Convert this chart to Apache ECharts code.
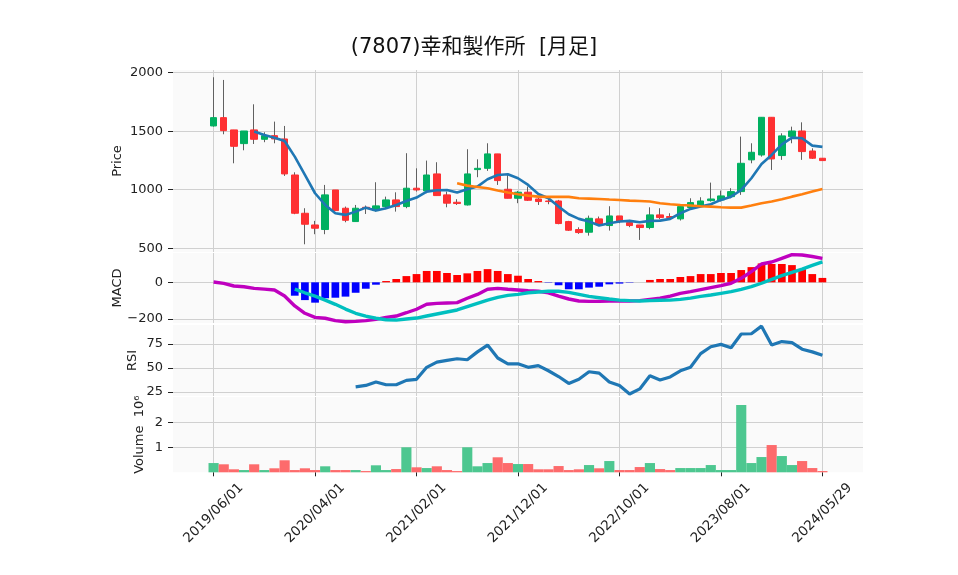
<!DOCTYPE html>
<html>
<head>
<meta charset="utf-8">
<title>(7807)幸和製作所 [月足]</title>
<script src="https://cdn.jsdelivr.net/npm/echarts@6/dist/echarts.min.js"></script>
<style>
html, body { margin: 0; padding: 0; background: #fff; }
#chart { width: 958px; height: 575px; }
</style>
</head>
<body>
<div id="chart"></div>
<script>
// 月足データ (チャートから読み取り)
var dates = [
    '2019/06/01', '2019/07/01', '2019/08/01', '2019/09/01', '2019/10/01', '2019/11/01', '2019/12/01',
    '2020/01/01', '2020/02/01', '2020/03/01', '2020/04/01', '2020/05/01', '2020/06/01',
    '2020/07/01', '2020/08/01', '2020/09/01', '2020/10/01', '2020/11/01', '2020/12/01',
    '2021/01/01', '2021/02/01', '2021/03/01', '2021/04/01', '2021/05/01', '2021/06/01',
    '2021/07/01', '2021/08/01', '2021/09/01', '2021/10/01', '2021/11/01', '2021/12/01',
    '2022/01/01', '2022/02/01', '2022/03/01', '2022/04/01', '2022/05/01', '2022/06/01',
    '2022/07/01', '2022/08/01', '2022/09/01', '2022/10/01', '2022/11/01', '2022/12/01',
    '2023/01/01', '2023/02/01', '2023/03/01', '2023/04/01', '2023/05/01', '2023/06/01',
    '2023/07/01', '2023/08/01', '2023/09/01', '2023/10/01', '2023/11/01', '2023/12/01',
    '2024/01/01', '2024/02/01', '2024/03/01', '2024/04/01', '2024/05/01', '2024/05/29'
];
var opens = [1545, 1616, 1511, 1394, 1511, 1431, 1462, 1434, 1126, 799,
    699, 660, 998, 842, 728, 850, 822, 856, 913, 856,
    1013, 990, 1135, 956, 893, 870, 1172, 1183, 1306, 1004,
    927, 979, 921, 904, 904, 728, 660, 637, 751, 694,
    776, 719, 699, 677, 785, 771, 751, 848, 870, 907,
    913, 941, 984, 1255, 1297, 1619, 1292, 1454, 1502, 1331, 1269];
var closes = [1616, 1505, 1371, 1502, 1431, 1462, 1434, 1135, 799, 705,
    671, 956, 822, 739, 842, 842, 862, 913, 856, 1013,
    998, 1126, 950, 885, 882, 1135, 1183, 1306, 1078, 927,
    979, 910, 899, 899, 711, 654, 634, 756, 705, 776,
    728, 694, 677, 785, 762, 762, 856, 890, 904, 921,
    947, 984, 1226, 1320, 1619, 1263, 1460, 1502, 1326, 1269, 1249];
var lows = [1539, 1474, 1226, 1337, 1391, 1406, 1397, 1118, 791, 534,
    620, 620, 822, 722, 728, 793, 813, 833, 813, 842,
    984, 970, 950, 850, 870, 865, 1107, 1161, 1041, 927,
    885, 904, 870, 876, 705, 648, 623, 608, 699, 651,
    714, 680, 571, 662, 748, 748, 737, 833, 856, 899,
    899, 927, 956, 1226, 1283, 1169, 1255, 1397, 1255, 1263, 1249];
var highs = [1961, 1938, 1511, 1502, 1730, 1491, 1582, 1545, 1149, 842,
    734, 1041, 998, 856, 870, 865, 1064, 941, 978, 1312,
    1183, 1249, 1235, 984, 919, 1346, 1260, 1397, 1306, 1126,
    990, 1027, 950, 927, 913, 734, 679, 779, 771, 859,
    776, 742, 699, 850, 842, 799, 856, 927, 936, 1061,
    993, 1013, 1454, 1397, 1619, 1619, 1482, 1539, 1576, 1354, 1269];
var ma5 = [null, null, null, null,
    1497, 1468, 1445, 1417, 1283, 1126, 970, 870, 799, 785, 813, 847, 822, 842, 870, 904,
    933, 984, 996, 998, 976, 1004, 1027, 1089, 1126, 1132, 1098, 1041, 964, 927, 856, 791,
    751, 728, 694, 714, 728, 734, 722, 734, 736, 751, 799, 836, 856, 876, 913, 941, 998,
    1098, 1220, 1297, 1388, 1445, 1440, 1377, 1366];
var ma25 = [null, null, null, null, null, null, null, null, null, null, null, null,
    null, null, null, null, null, null, null, null, null, null, null, null,
    1055, 1035, 1024, 1013, 993, 976, 961, 950, 941, 939, 939, 939, 927, 924, 921, 916,
    912, 907, 904, 899, 884, 876, 870, 865, 859, 856, 850, 847, 847, 865, 884, 899, 919,
    941, 961, 984, 1007];
var macd = [2, -6, -20, -24, -33, -37, -42, -75, -129, -169,
    -191, -196, -209, -215, -213, -209, -202, -191, -184, -166,
    -147, -120, -115, -113, -111, -87, -66, -38, -33, -38,
    -42, -46, -49, -57, -75, -91, -102, -104, -104, -102,
    -102, -102, -100, -93, -87, -75, -60, -51, -40, -29,
    -18, -5, 22, 58, 100, 111, 131, 151, 149, 141, 131];
var signal = [null, null, null, null, null, null, null, null, -37, -57,
    -75, -97, -120, -146, -169, -184, -196, -204, -206, -200,
    -195, -184, -173, -162, -151, -133, -115, -97, -82, -71,
    -66, -57, -53, -49, -49, -55, -66, -77, -84, -91,
    -97, -100, -102, -100, -98, -97, -93, -86, -77, -69,
    -60, -51, -38, -24, -5, 16, 36, 54, 72, 92, 112];
var macdHist = [null, null, null, null, null, null, null, null, -73, -97,
    -111, -87, -84, -78, -57, -35, -13, 7, 18, 34,
    45, 62, 62, 51, 40, 49, 62, 72, 62, 45,
    36, 18, 7, -2, -16, -38, -38, -29, -24, -11,
    -7, -2, 0, 13, 18, 18, 29, 34, 45, 45,
    51, 51, 67, 83, 103, 100, 100, 94, 72, 45, 24];
var rsi = [null, null, null, null, null, null, null, null, null, null, null, null, null, null,
    30.4, 31.8, 35.4, 32.5, 32.5, 37.1,
    38.2, 50.7, 56.1, 57.9, 59.6, 58.6, 66.8, 73.9, 60.4, 54.3,
    54.3, 50.7, 52.5, 47.1, 41.1, 33.9, 38.2, 46.1, 44.6, 35.4,
    31.8, 22.9, 28.2, 41.8, 37.5, 40.7, 47.1, 50.7, 65.0, 72.1,
    74.6, 71.1, 85.4, 85.7, 93.6, 73.9, 77.5, 76.4, 69.6, 66.8, 63.2];
var volumes = [370000, 320000, 120000, 90000, 320000, 90000, 160000, 480000, 90000, 160000,
    90000, 240000, 90000, 90000, 90000, 50000, 280000, 90000, 130000, 1000000,
    200000, 170000, 240000, 90000, 50000, 1000000, 240000, 370000, 600000, 370000,
    330000, 330000, 120000, 120000, 250000, 90000, 120000, 290000, 160000, 450000,
    90000, 90000, 210000, 370000, 130000, 90000, 170000, 170000, 170000, 290000,
    90000, 90000, 2690000, 370000, 610000, 1090000, 650000, 290000, 450000, 170000, 50000];

var priceTicks = [500, 1000, 1500, 2000];
var macdTicks = [-200, 0];
var rsiTicks = [25, 50, 75];
var volumeTicks = [1000000, 2000000];
var tickDates = ['2019/06/01', '2020/04/01', '2021/02/01', '2021/12/01', '2022/10/01', '2023/08/01', '2024/05/29'];

var PAD = 4;
var font = 'DejaVu Sans';
var myChart = echarts.init(document.getElementById('chart'));

// 左右に空きを作るためのパディング
function pad(arr, empty) {
    var out = [];
    for (var i = 0; i < PAD; i++) out.push(empty);
    arr.forEach(function(v) { out.push(v == null ? empty : v); });
    for (var j = 0; j < PAD; j++) out.push(empty);
    return out;
}

var cats = [];
for (var i = 0; i < PAD; i++) cats.push('L' + i);
dates.forEach(function(d) { cats.push(d); });
for (var k = 0; k < PAD; k++) cats.push('R' + k);

function isTick(index, value) {
    return tickDates.indexOf(value) >= 0;
}

var wickData = [], bodyData = [], volData = [];
dates.forEach(function(d, i) {
    wickData.push([opens[i], closes[i], lows[i], highs[i]]);
    bodyData.push([opens[i], closes[i], Math.min(opens[i], closes[i]), Math.max(opens[i], closes[i])]);
    volData.push({
        value: volumes[i],
        itemStyle: { color: closes[i] >= opens[i] ? '#4dc790' : '#fd6b6c' }
    });
});

var grids = [
    { left: 173, right: 95, top: 70, height: 182 },
    { left: 173, right: 95, top: 253, height: 70 },
    { left: 173, right: 95, top: 325, height: 71 },
    { left: 173, right: 95, top: 397, height: 75.3 }
];
grids.forEach(function(g) {
    g.show = true;
    g.backgroundColor = '#fafafa';
    g.borderWidth = 0;
});

function xAxisFor(idx, bottom) {
    return {
        type: 'category',
        gridIndex: idx,
        data: cats,
        boundaryGap: false,
        axisLine: { show: false },
        axisTick: { show: bottom, interval: isTick, length: 4, lineStyle: { color: '#222' } },
        axisLabel: {
            show: bottom, interval: isTick, rotate: 45, align: 'center', verticalAlign: 'middle',
            margin: 41, fontSize: 13.5, fontFamily: font, color: '#222'
        },
        splitLine: { show: true, interval: isTick, lineStyle: { color: '#d0d0d0', width: 1 } }
    };
}

function yAxisFor(idx, name, gap, min, max, ticks, fmt) {
    return {
        type: 'value',
        gridIndex: idx,
        min: min,
        max: max,
        name: name,
        nameLocation: 'middle',
        nameRotate: 90,
        nameGap: gap,
        nameMoveOverlap: false,
        nameTextStyle: { fontSize: 13, fontFamily: font, color: '#222' },
        axisLine: { show: false },
        axisTick: { show: true, length: 5, customValues: ticks, lineStyle: { color: '#222' } },
        axisLabel: {
            customValues: ticks, fontSize: 13, fontFamily: font, color: '#222', margin: 10,
            formatter: fmt || function(v) { return String(v).replace('-', '\u2212'); }
        },
        splitLine: { show: true, lineStyle: { color: '#d0d0d0', width: 1 } }
    };
}

var option = {
    animation: false,
    backgroundColor: '#fff',
    title: {
        text: '(7807)幸和製作所  [月足]',
        left: 469,
        top: 32,
        textAlign: 'center',
        textStyle: {
            fontSize: 21, fontWeight: 'normal', color: '#111',
            fontFamily: 'DejaVu Sans, Noto Sans CJK JP'
        }
    },
    grid: grids,
    xAxis: [xAxisFor(0, false), xAxisFor(1, false), xAxisFor(2, false), xAxisFor(3, true)],
    yAxis: [
        yAxisFor(0, 'Price', 49, 468, 2023, priceTicks),
        yAxisFor(1, 'MACD', 49, -222, 160, macdTicks),
        yAxisFor(2, 'RSI', 34, 20.8, 94.8, rsiTicks),
        yAxisFor(3, 'Volume  10\u2076', 27, 0, 3010000, volumeTicks, function(v) { return String(v / 1000000); })
    ],
    series: [
        {
            name: 'wick',
            type: 'candlestick',
            xAxisIndex: 0, yAxisIndex: 0,
            barWidth: 1,
            itemStyle: { color: '#606060', color0: '#606060', borderColor: '#606060', borderColor0: '#606060', borderWidth: 1 },
            data: pad(wickData, '-')
        },
        {
            name: 'body',
            type: 'candlestick',
            xAxisIndex: 0, yAxisIndex: 0,
            barWidth: 7,
            itemStyle: { color: '#00b060', color0: '#fe3032', borderColor: '#00b060', borderColor0: '#fe3032', borderWidth: 1 },
            data: pad(bodyData, '-')
        },
        {
            name: 'MA5', type: 'line', xAxisIndex: 0, yAxisIndex: 0,
            data: pad(ma5, '-'), symbol: 'none',
            lineStyle: { color: '#1f77b4', width: 2.6 }
        },
        {
            name: 'MA25', type: 'line', xAxisIndex: 0, yAxisIndex: 0,
            data: pad(ma25, '-'), symbol: 'none',
            lineStyle: { color: '#ff7f0e', width: 2.6 }
        },
        {
            name: 'hist', type: 'bar', xAxisIndex: 1, yAxisIndex: 1,
            data: pad(macdHist, '-'), barWidth: '76%',
            itemStyle: {
                color: function(p) { return p.value >= 0 ? '#ff0000' : '#0000ff'; }
            }
        },
        {
            name: 'MACD', type: 'line', xAxisIndex: 1, yAxisIndex: 1,
            data: pad(macd, '-'), symbol: 'none',
            lineStyle: { color: '#bf00bf', width: 3.4 }
        },
        {
            name: 'Signal', type: 'line', xAxisIndex: 1, yAxisIndex: 1,
            data: pad(signal, '-'), symbol: 'none',
            lineStyle: { color: '#00bfbf', width: 3.4 }
        },
        {
            name: 'RSI', type: 'line', xAxisIndex: 2, yAxisIndex: 2,
            data: pad(rsi, '-'), symbol: 'none',
            lineStyle: { color: '#1f77b4', width: 3.2 }
        },
        {
            name: 'Volume', type: 'bar', xAxisIndex: 3, yAxisIndex: 3,
            data: pad(volData, '-'), barWidth: '100%'
        }
    ]
};

myChart.setOption(option);
</script>
</body>
</html>
